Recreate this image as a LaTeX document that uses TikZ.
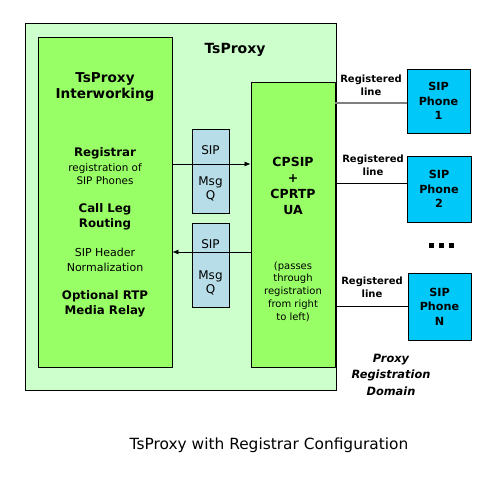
\documentclass[tikz,border=0pt]{standalone}
\usepackage{fontspec}
\setmainfont{DejaVu Sans}
\usetikzlibrary{arrows.meta}
\definecolor{proxybg}{HTML}{CCFFCC}
\definecolor{modgreen}{HTML}{99FF66}
\definecolor{queueblue}{HTML}{B7DDE8}
\definecolor{phoneblue}{HTML}{00C8F8}
\tikzset{
    every node/.style={inner sep=0pt, align=center},
    box/.style={draw, line width=0.8pt},
    big/.style={font=\fontsize{11.8}{15}\selectfont\bfseries},
    small/.style={font=\fontsize{10.4}{13}\selectfont},
    tag/.style={font=\fontsize{10}{13}\selectfont\bfseries},
    flow/.style={-{Latex[length=6pt,width=5pt]}, line width=0.7pt}
}

\begin{document}
\begin{tikzpicture}[x=1pt, y=-1pt]
  \useasboundingbox (0,0) rectangle (492,479);
  % boxes
  \node (proxy) [box, fill=proxybg, minimum width=311, minimum height=367] at (180.5,206.5) {};
  \node (interw) [box, fill=modgreen, minimum width=134, minimum height=330] at (105,202) {};
  \node (ua) [box, fill=modgreen, minimum width=84, minimum height=285] at (293,224.5) {};
  \node (q1) [box, fill=queueblue, minimum width=37, minimum height=84] at (210.5,171) {};
  \node (q2) [box, fill=queueblue, minimum width=37, minimum height=84] at (210.5,265) {};

  \node (title) [big, font=\fontsize{14}{15}\selectfont\bfseries] at (235,50) {TsProxy};

  % left module
  \node (iwname) [big, font=\fontsize{13.6}{16}\selectfont\bfseries] at (105,87.5) {TsProxy\\Interworking};
  \node (reg) [big] at (105,153) {Registrar};
  \node (regtxt) [small] at (105,174.5) {registration of\\SIP Phones};
  \node (route) [big] at (105,216.5) {Call Leg\\Routing};
  \node (norm) [small, font=\fontsize{11}{15}\selectfont] at (105,259.5) {SIP Header\\Normalization};
  \node (relay) [big] at (105,303.5) {Optional RTP\\Media Relay};

  % right module
  \node (uaname) [big, font=\fontsize{12.5}{16}\selectfont\bfseries] at (293,185.5) {CPSIP\\+\\CPRTP\\UA};
  \node (uatxt) [small, font=\fontsize{10}{12.75}\selectfont] at (293,291.5) {(passes\\through\\registration\\from right\\to left)};

  % queues
  \node (q1a) [small, font=\fontsize{12}{14}\selectfont] at (210.5,150) {SIP};
  \node (q1b) [small, font=\fontsize{12}{14}\selectfont] at (210.5,188.5) {Msg\\Q};
  \node (q2a) [small, font=\fontsize{12}{14}\selectfont] at (210.5,244) {SIP};
  \node (q2b) [small, font=\fontsize{12}{14}\selectfont] at (210.5,282.5) {Msg\\Q};

  \draw [flow] ([yshift=7pt]q1.west -| interw.east) -- ([yshift=7pt]q1.east -| ua.west);
  \draw [flow] ([yshift=13pt]q2.east -| ua.west) -- ([yshift=13pt]q2.west -| interw.east);

  % phones
  \node (ph1) [box, fill=phoneblue, big, font=\fontsize{11.2}{14.5}\selectfont\bfseries, minimum width=63, minimum height=64] at (438.5,101) {SIP\\Phone\\1};
  \node (ph2) [box, fill=phoneblue, big, font=\fontsize{11.2}{14.5}\selectfont\bfseries, minimum width=64, minimum height=66] at (439,189) {SIP\\Phone\\2};
  \node (phn) [box, fill=phoneblue, big, font=\fontsize{11.2}{14.5}\selectfont\bfseries, minimum width=63, minimum height=67] at (439.5,306.5) {SIP\\Phone\\N};

  \node (l1) [tag] at (371,85.5) {Registered\\line};
  \node (l2) [tag] at (373,165.5) {Registered\\line};
  \node (ln) [tag] at (372,287.5) {Registered\\line};

  \draw [line width=1.2pt, gray] ([yshift=-2pt]ph1.west -| ua.east) -- ([yshift=-2pt]ph1.west);
  \draw [line width=0.8pt] ([yshift=6pt]ph2.west -| ua.east) -- ([yshift=6pt]ph2.west);
  \draw [line width=0.8pt] ([yshift=0.5pt]phn.west -| ua.east) -- ([yshift=0.5pt]phn.west);

  \foreach \x in {431,441,451}
    \fill (\x-2.5,243) rectangle ++(5,5);

  \node (domain) [big, font=\fontsize{11.4}{16.5}\selectfont\bfseries\itshape] at (391,374.5) {Proxy\\Registration\\Domain};

  \node (caption) [font=\fontsize{15.4}{18}\selectfont] at (269,445) {TsProxy with Registrar Configuration};
\end{tikzpicture}
\end{document}
